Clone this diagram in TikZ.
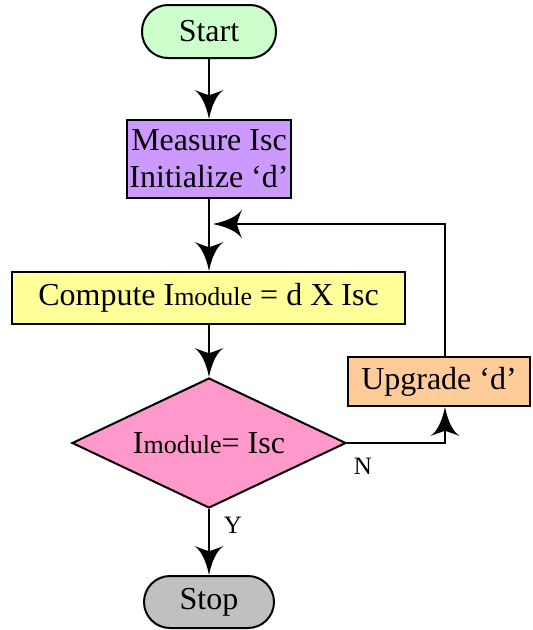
\documentclass[tikz,border=0pt]{standalone}
\usepackage{fontspec}
\setmainfont{Liberation Serif}
\usetikzlibrary{arrows.meta,shapes.geometric}
\pgfdeclarearrow{
  name = Concave,
  parameters = {\the\pgfarrowlength,\the\pgfarrowwidth},
  setup code = {
    \pgfarrowssettipend{0pt}
    \pgfarrowssetlineend{-0.7\pgfarrowlength}
    \pgfarrowssavethe\pgfarrowlength
    \pgfarrowssavethe\pgfarrowwidth
    \pgfarrowshullpoint{0pt}{0pt}
    \pgfarrowshullpoint{-\pgfarrowlength}{0.5\pgfarrowwidth}
    \pgfarrowshullpoint{-\pgfarrowlength}{-0.5\pgfarrowwidth}
  },
  drawing code = {
    \pgfpathmoveto{\pgfpoint{0pt}{0pt}}
    \pgfpathcurveto{\pgfpoint{-0.5\pgfarrowlength}{0.1\pgfarrowwidth}}{\pgfpoint{-0.85\pgfarrowlength}{0.28\pgfarrowwidth}}{\pgfpoint{-\pgfarrowlength}{0.5\pgfarrowwidth}}
    \pgfpathcurveto{\pgfpoint{-0.9\pgfarrowlength}{0.25\pgfarrowwidth}}{\pgfpoint{-0.85\pgfarrowlength}{0.08\pgfarrowwidth}}{\pgfpoint{-0.82\pgfarrowlength}{0pt}}
    \pgfpathcurveto{\pgfpoint{-0.85\pgfarrowlength}{-0.08\pgfarrowwidth}}{\pgfpoint{-0.9\pgfarrowlength}{-0.25\pgfarrowwidth}}{\pgfpoint{-\pgfarrowlength}{-0.5\pgfarrowwidth}}
    \pgfpathcurveto{\pgfpoint{-0.85\pgfarrowlength}{-0.28\pgfarrowwidth}}{\pgfpoint{-0.5\pgfarrowlength}{-0.1\pgfarrowwidth}}{\pgfpoint{0pt}{0pt}}
    \pgfpathclose
    \pgfusepathqfill
  }
}
\definecolor{cstart}{HTML}{CCFFCC}
\definecolor{cmeas}{HTML}{CC99FF}
\definecolor{ccomp}{HTML}{FFFF99}
\definecolor{cdec}{HTML}{FF99CC}
\definecolor{cupg}{HTML}{FFCC99}
\definecolor{cstop}{HTML}{C0C0C0}
\newcommand{\bigtxt}{\fontsize{32}{37}\selectfont}
\newcommand{\smalltxt}{\fontsize{26}{28}\selectfont}
\newcommand{\lbltxt}{\fontsize{25}{28}\selectfont}
\begin{document}
\begin{tikzpicture}[x=1pt,y=-1pt,
  every node/.style={font=\bigtxt, inner sep=0pt},
  box/.style={draw=black, line width=2pt, rectangle, align=center},
  term/.style={box, rounded corners=26pt},
  arr/.style={line width=2pt, -{Concave[length=29pt,width=29pt]}},
  lbl/.style={font=\lbltxt}]
\useasboundingbox (0,0) rectangle (533,630);
\node[term, fill=cstart, minimum width=134pt, minimum height=53pt] (start) at (209,31.5) {Start};
\node[box, fill=cmeas, minimum width=164pt, minimum height=78pt] (meas) at (209,159) {Measure Isc\\Initialize ‘d’};
\node[box, fill=ccomp, minimum width=393pt, minimum height=52pt] (comp) at (208.5,298) {Compute I{\smalltxt module} = d X Isc};
\node[diamond, draw=black, line width=2pt, fill=cdec, aspect=2.1, minimum width=274pt, minimum height=130pt] (dec) at (209,443) {I{\smalltxt module}= Isc};
\node[box, fill=cupg, minimum width=182pt, minimum height=49pt] (upg) at (439,381.5) {Upgrade ‘d’};
\node[term, fill=cstop, minimum width=130pt, minimum height=52pt] (stop) at (209,602) {Stop};
\node[lbl] (nlab) at (363,466) {N};
\node[lbl] (ylab) at (233,525) {Y};
\coordinate (loopx) at (445,0);
\coordinate (merge) at (213,224);
\draw[arr] (start) -- (meas);
\draw[arr] (meas.south) -- (meas.south |- comp.north);
\draw[arr] (dec.north |- comp.south) -- (dec.north);
\draw[arr] (dec) -- (stop);
\draw[arr] (dec.east) -| (upg.south -| loopx);
\draw[arr] (upg.north -| loopx) |- (merge);
\end{tikzpicture}
\end{document}
